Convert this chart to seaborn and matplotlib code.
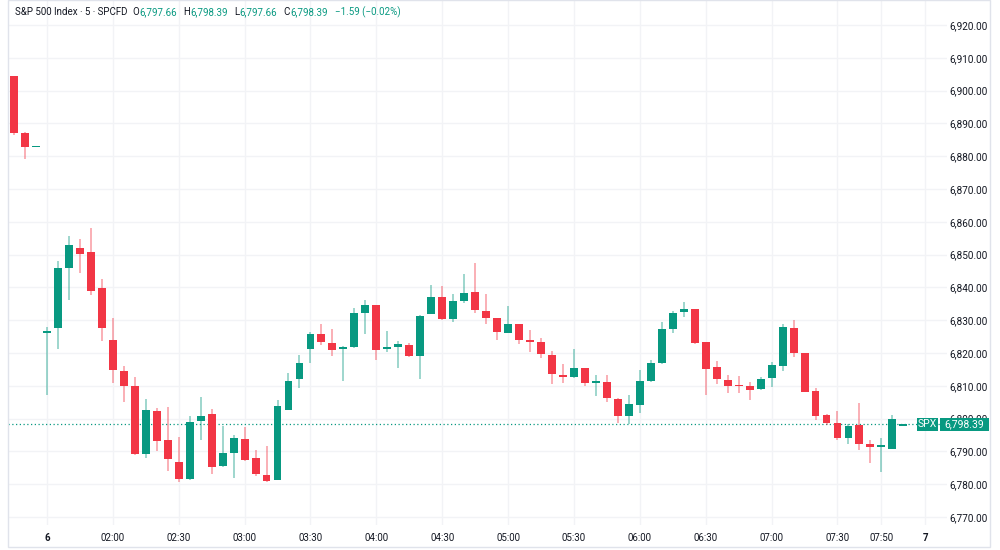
import numpy as np
import pandas as pd
import matplotlib
matplotlib.use("Agg")
import matplotlib.pyplot as plt
import seaborn as sns
from matplotlib.patches import Rectangle

# 5-minute candles, S&P 500 CFD
opens = [6904.3, 6887.2, 6882.7, 6826.2, 6827.7, 6845.9, 6852.0, 6850.7, 6839.8, 6824.0,
         6814.6, 6809.9, 6789.2, 6802.3, 6793.6, 6786.9, 6781.7, 6799.3, 6801.3, 6785.4,
         6789.4, 6793.9, 6787.9, 6782.9, 6781.4, 6802.7, 6812.2, 6821.1, 6825.9, 6823.0,
         6821.3, 6821.8, 6832.3, 6834.6, 6821.2, 6821.7, 6822.3, 6819.0, 6831.9, 6837.0,
         6830.5, 6835.8, 6838.5, 6832.8, 6830.6, 6826.0, 6828.8, 6823.9, 6823.3, 6819.4,
         6813.2, 6812.7, 6815.4, 6811.0, 6811.3, 6806.1, 6800.8, 6804.2, 6811.4, 6816.8,
         6827.3, 6832.4, 6833.5, 6823.4, 6815.6, 6811.9, 6810.0, 6809.9, 6808.9, 6812.3,
         6815.9, 6827.7, 6820.0, 6808.4, 6801.0, 6798.6, 6794.2, 6798.1, 6792.2, 6791.2,
         6790.7, 6797.66]
highs = [6904.3, 6887.3, 6882.9, 6827.9, 6847.9, 6855.7, 6854.9, 6858.0, 6842.5, 6830.6,
         6815.9, 6812.7, 6806.0, 6803.1, 6803.6, 6794.4, 6800.8, 6806.6, 6803.0, 6797.8,
         6794.9, 6797.3, 6790.3, 6791.6, 6805.6, 6813.9, 6819.4, 6826.5, 6828.8, 6827.4,
         6822.0, 6833.7, 6836.3, 6834.7, 6826.8, 6823.8, 6823.0, 6831.7, 6840.8, 6840.3,
         6838.1, 6844.2, 6847.5, 6838.1, 6830.8, 6834.2, 6828.9, 6826.9, 6824.7, 6820.5,
         6816.7, 6821.1, 6815.4, 6813.4, 6813.4, 6806.2, 6807.1, 6814.8, 6817.8, 6829.5,
         6832.8, 6835.5, 6833.5, 6823.4, 6817.6, 6813.2, 6812.9, 6811.2, 6812.7, 6817.2,
         6828.9, 6830.0, 6820.0, 6809.4, 6801.5, 6802.4, 6798.3, 6804.7, 6793.6, 6794.2,
         6801.2, 6798.39]
lows = [6886.4, 6879.1, 6882.7, 6807.1, 6821.3, 6836.2, 6844.5, 6837.7, 6823.7, 6810.9,
        6805.0, 6789.0, 6788.0, 6790.1, 6783.9, 6780.6, 6781.4, 6793.6, 6783.2, 6785.3,
        6781.9, 6787.0, 6782.6, 6780.8, 6781.2, 6802.6, 6809.4, 6817.1, 6822.3, 6819.2,
        6811.6, 6821.6, 6825.9, 6818.0, 6820.2, 6815.4, 6818.9, 6812.1, 6831.8, 6830.2,
        6829.5, 6835.2, 6832.2, 6828.9, 6824.1, 6826.0, 6822.8, 6820.2, 6818.6, 6810.5,
        6811.0, 6812.4, 6809.8, 6806.8, 6805.2, 6798.7, 6798.5, 6801.7, 6811.3, 6816.7,
        6826.0, 6831.0, 6822.7, 6807.1, 6810.5, 6807.7, 6807.9, 6805.6, 6808.7, 6809.5,
        6814.6, 6818.8, 6808.1, 6799.5, 6798.0, 6793.6, 6792.4, 6790.4, 6786.5, 6783.6,
        6790.6, 6797.66]
closes = [6887.0, 6882.8, 6882.9, 6826.5, 6845.8, 6852.9, 6850.3, 6838.8, 6827.5, 6814.8,
          6809.9, 6789.2, 6802.5, 6793.1, 6787.8, 6781.6, 6799.1, 6800.9, 6785.2, 6789.6,
          6794.2, 6787.3, 6783.1, 6780.9, 6803.8, 6811.6, 6817.0, 6825.9, 6823.2, 6820.8,
          6821.8, 6832.2, 6834.6, 6821.0, 6821.8, 6822.8, 6819.0, 6831.4, 6837.2, 6830.3,
          6836.0, 6838.2, 6833.0, 6830.7, 6826.3, 6828.8, 6823.9, 6823.5, 6819.6, 6813.5,
          6812.6, 6815.4, 6811.0, 6811.5, 6806.3, 6800.8, 6804.3, 6811.5, 6816.8, 6827.3,
          6832.3, 6833.3, 6823.1, 6815.1, 6812.0, 6809.9, 6809.8, 6808.6, 6812.1, 6816.2,
          6827.9, 6819.9, 6808.2, 6800.8, 6798.8, 6794.2, 6797.8, 6792.3, 6791.2, 6792.1,
          6799.8, 6798.39]

time_ticks = [3, 9, 15, 21, 27, 33, 39, 45, 51, 57, 63, 69, 75, 79, 83]
time_labels = ["6", "02:00", "02:30", "03:00", "03:30", "04:00", "04:30", "05:00",
               "05:30", "06:00", "06:30", "07:00", "07:30", "07:50", "7"]
price_ticks = list(range(6770, 6930, 10))
last_price = 6798.39

UP = "#089981"
DOWN = "#F23645"
GRID = "#f2f3f6"
TEXT = "#131722"

df = pd.DataFrame({"open": opens, "high": highs, "low": lows, "close": closes})
df["idx"] = np.arange(len(df))
df["up"] = df["close"] >= df["open"]
df["color"] = np.where(df["up"], UP, DOWN)
df["bottom"] = df[["open", "close"]].min(axis=1)
df["height"] = (df["close"] - df["open"]).abs().clip(lower=0.45)

sns.set_theme(style="white")
plt.rcParams["font.family"] = ["Roboto", "DejaVu Sans"]

W, H = 1000, 550
fig = plt.figure(figsize=(10, 5.5), dpi=100)
ax = fig.add_axes([8 / W, 25 / H, 982 / W, 525 / H])

ax.set_xlim(-0.546, 88.89)
ax.set_ylim(6767.56, 6927.62)

# grid
for p in price_ticks:
    ax.axhline(p, color=GRID, lw=1, zorder=0)
for t in time_ticks:
    ax.axvline(t, color=GRID, lw=1, zorder=0)

# wicks and bodies
ax.vlines(df["idx"], df["low"], df["high"], colors=df["color"], lw=1.1, alpha=0.5, zorder=2)
ax.bar(df["idx"], df["height"], bottom=df["bottom"], width=0.72,
       color=df["color"], linewidth=0, zorder=3)

# last price line
ax.axhline(last_price, color=UP, lw=0.9, ls=(0, (1, 2)), zorder=1)

# axes styling
for s in ax.spines.values():
    s.set_visible(False)
ax.yaxis.tick_right()
ax.set_yticks(price_ticks)
ax.set_yticklabels([f"{p:,.2f}" for p in price_ticks])
ax.tick_params(axis="y", length=0, pad=-1.5, labelsize=7.2, labelcolor=TEXT)
for lab in ax.get_yticklabels():
    lab.set_horizontalalignment("right")
    lab.set_bbox(dict(facecolor="white", edgecolor="none", pad=1.5))

ax.set_xticks(time_ticks)
ax.set_xticklabels(time_labels)
ax.tick_params(axis="x", length=0, pad=6, labelsize=7, labelcolor=TEXT)
for lab in ax.get_xticklabels():
    if lab.get_text() in ("6", "7"):
        lab.set_fontweight("bold")
ax.grid(False)


# last price tags (pixel boxes from the top-left corner)
def px_box(x0, x1, y0, y1, text):
    fig.patches.append(Rectangle((x0 / W, 1 - y1 / H), (x1 - x0) / W, (y1 - y0) / H,
                                 transform=fig.transFigure, facecolor=UP, edgecolor="none",
                                 zorder=5))
    fig.text((x0 + x1) / 2 / W, 1 - (y0 + y1) / 2 / H, text, color="white", fontsize=7.5,
             ha="center", va="center", zorder=6)


px_box(917, 938, 417.5, 431, "SPX")
px_box(939.5, 989, 417.5, 431, f"{last_price:,.2f}")

# outer border
fig.patches.append(Rectangle((8 / W, 3 / H), 982 / W, 1 - 3 / H, transform=fig.transFigure,
                             fill=False, edgecolor="#e0e3eb", lw=1))

# header legend
renderer = fig.canvas.get_renderer()
parts = [("S&P 500 Index · 5 · SPCFD", TEXT, 5), ("O", TEXT, 0.5), ("6,797.66", UP, 6),
         ("H", TEXT, 0.5), ("6,798.39", UP, 6), ("L", TEXT, 0.5), ("6,797.66", UP, 6),
         ("C", TEXT, 0.5), ("6,798.39", UP, 7), ("\u22121.59 (\u22120.02%)", UP, 0)]
x = 15
for txt, col, gap in parts:
    t = fig.text(x / W, 1 - 12 / H, txt, color=col, fontsize=7, va="center", ha="left")
    w = t.get_window_extent(renderer).width
    x += w + gap

fig.savefig("out.png", dpi=100)
